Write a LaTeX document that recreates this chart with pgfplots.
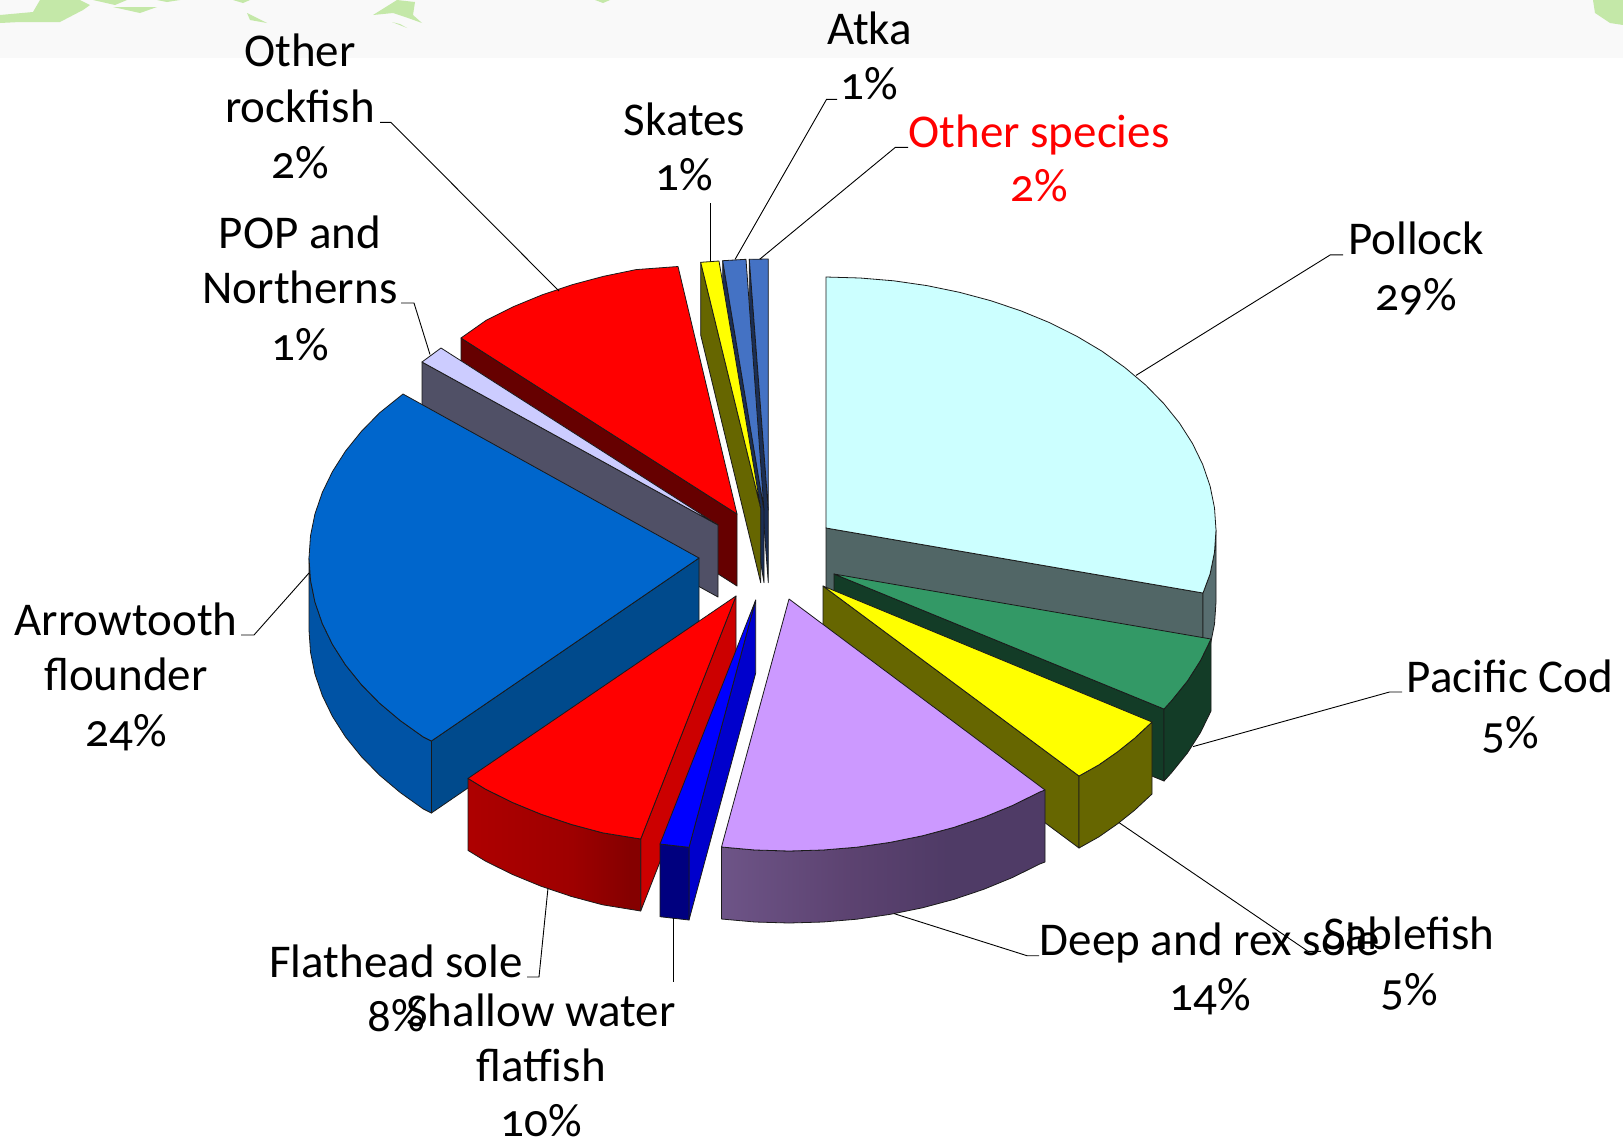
\documentclass[border=0pt]{standalone}
\usepackage{pgfplots}
\pgfplotsset{compat=1.18}
\usepackage{fontspec}
\setmainfont[Numbers=OldStyle]{Carlito}
\definecolor{ln}{HTML}{1A1A1A}
\definecolor{strip}{HTML}{F9F9F9}
\definecolor{leaf}{HTML}{C4E8A8}
\definecolor{cPolFace}{HTML}{516666}
\definecolor{cPolOut}{HTML}{586E70}
\definecolor{cPolTop}{HTML}{CCFFFF}
\definecolor{cCodDark}{HTML}{133C27}
\definecolor{cCodTop}{HTML}{339966}
\definecolor{cOlive}{HTML}{666600}
\definecolor{cYel}{HTML}{FFFF00}
\definecolor{cLilac}{HTML}{CC99FF}
\definecolor{cNavy}{HTML}{1A2E55}
\definecolor{cSteel}{HTML}{4472C4}
\definecolor{cMaroon}{HTML}{660000}
\definecolor{cRed}{HTML}{FF0000}
\definecolor{cPopSide}{HTML}{505066}
\definecolor{cPopTop}{HTML}{CCCCFF}
\definecolor{cArrIn}{HTML}{004A8C}
\definecolor{cArrOut}{HTML}{0053A5}
\definecolor{cArrTop}{HTML}{0066CC}
\definecolor{cFlatIn}{HTML}{CC0000}
\definecolor{cShalIn}{HTML}{0000CC}
\definecolor{cShalOut}{HTML}{00007F}
\definecolor{cShalTop}{HTML}{0000FF}
\pgfdeclarehorizontalshading{lilacside}{100bp}{rgb(0bp)=(.43,.33,.53); rgb(25bp)=(.43,.33,.53); rgb(45bp)=(.36,.26,.44); rgb(60bp)=(.31,.23,.40); rgb(100bp)=(.31,.23,.40)}
\pgfdeclarehorizontalshading{redside}{100bp}{rgb(0bp)=(.68,0,0); rgb(25bp)=(.68,0,0); rgb(55bp)=(.62,0,0); rgb(72bp)=(.52,0,0); rgb(100bp)=(.52,0,0)}
\pgfplotsset{
  face/.style={fill=#1,draw=ln,line width=.8pt,line join=round,forget plot,mark=none},
  shd/.style={shade,shading=#1,draw=ln,line width=.8pt,line join=round,forget plot,mark=none},
  plain/.style={fill=#1,draw=none,forget plot,mark=none},
  lead/.style={draw=black,line width=.9pt,forget plot,mark=none},
}
\newcommand{\lab}[3]{\node[anchor=base,inner sep=0pt,font=\fontsize{47}{54}\selectfont] at (axis cs:#1,#2) {#3};}
\newcommand{\labr}[3]{\node[anchor=base,inner sep=0pt,text=red,font=\fontsize{47}{54}\selectfont] at (axis cs:#1,#2) {#3};}
\begin{document}
\begin{tikzpicture}
\begin{axis}[scale only axis,width=1623pt,height=1146pt,xmin=0,xmax=1623,ymin=0,ymax=1146,y dir=reverse,hide axis]
% background
\addplot[plain=white] coordinates {(0,0)(1623,0)(1623,1146)(0,1146)} --cycle;
\addplot[plain=strip] coordinates {(0,0)(1623,0)(1623,58)(0,58)} --cycle;
\addplot[plain=leaf] coordinates {(0,15)(33,12)(40,0)(80,0)(90,5)(83,10)(60,22)(20,22)(0,23)} --cycle;
\addplot[plain=leaf] coordinates {(93,0)(127,0)(115,5)} --cycle;
\addplot[plain=leaf] coordinates {(113,7)(157,7)(140,13)} --cycle;
\addplot[plain=leaf] coordinates {(157,0)(180,0)(167,2)} --cycle;
\addplot[plain=leaf] coordinates {(233,0)(250,0)(243,3)} --cycle;
\addplot[plain=leaf] coordinates {(247,13)(267,23)(250,20)} --cycle;
\addplot[plain=leaf] coordinates {(373,15)(397,0)(415,2)(413,15)(422,23)(408,18)(393,13)} --cycle;
\addplot[plain=leaf] coordinates {(392,22)(407,28)(400,24)} --cycle;
\addplot[plain=leaf] coordinates {(595,0)(603,3)(610,0)} --cycle;
\addplot[plain=leaf] coordinates {(1593,0)(1623,0)(1623,25)(1610,23)(1595,13)} --cycle;
% Pollock
\addplot[face=cPolFace] coordinates {(826,528)(1203,593)(1203,665)(826,600)} --cycle;
\addplot[face=cPolOut] coordinates {(1216,530)(1214.5,552.1)(1210.1,573.9)(1203,593)(1203,665)(1210.1,645.9)(1214.5,624.1)(1216,602)} --cycle;
\addplot[face=cPolTop] coordinates {(826,528)(826,277)(860,278)(893.7,280.8)(926.9,285.6)(959.4,292.3)(990.8,300.7)(1021,310.9)(1049.7,322.7)(1076.7,336.2)(1101.8,351.1)(1124.7,367.4)(1145.5,384.9)(1163.7,403.5)(1179.5,423.1)(1192.5,443.5)(1202.7,464.5)(1210.1,486.1)(1214.5,507.9)(1216,530)(1214.5,552.1)(1210.1,573.9)(1203,593)} --cycle;
% Pacific Cod
\addplot[face=cCodDark] coordinates {(834,574)(1164,709)(1164,781)(834,646)} --cycle;
\addplot[face=cCodDark] coordinates {(1211,639)(1200.5,660.5)(1187.5,680.9)(1171.7,700.5)(1164,709)(1164,781)(1171.7,772.5)(1187.5,752.9)(1200.5,732.5)(1211,711)} --cycle;
\addplot[face=cCodTop] coordinates {(834,574)(1211,639)(1200.5,660.5)(1187.5,680.9)(1171.7,700.5)(1164,709)} --cycle;
% Sablefish
\addplot[face=cOlive] coordinates {(823,586)(1079,776)(1079,848)(823,658)} --cycle;
\addplot[face=cOlive] coordinates {(1152,722)(1134.5,738.3)(1117.3,752)(1098.8,764.9)(1079,776)(1079,848)(1098.8,836.9)(1117.3,824)(1134.5,810.3)(1152,794)} --cycle;
\addplot[face=cYel] coordinates {(823,586)(1152,722)(1134.5,738.3)(1117.3,752)(1098.8,764.9)(1079,776)} --cycle;
% Deep and rex sole
\addplot[shd=lilacside] coordinates {(1045,790)(1039.7,792)(1012.7,805.4)(984,817.2)(953.8,827.4)(922.4,835.8)(889.9,842.4)(856.7,847.2)(823,850)(789,851)(755,850)(721.5,847)(721.5,919)(755,922)(789,923)(823,922)(856.7,919.2)(889.9,914.4)(922.4,907.8)(953.8,899.4)(984,889.2)(1012.7,877.4)(1039.7,864)(1045,862)} --cycle;
\addplot[face=cLilac] coordinates {(789,599)(1045,790)(1039.7,792)(1012.7,805.4)(984,817.2)(953.8,827.4)(922.4,835.8)(889.9,842.4)(856.7,847.2)(823,850)(789,851)(755,850)(721.5,847)} --cycle;
% Other species
\addplot[face=cNavy] coordinates {(749.3,259.3)(749.3,332)(768.3,582.7)(768.3,510)} --cycle;
\addplot[face=cSteel] coordinates {(749.3,259.3)(768.3,259)(768.3,510)} --cycle;
% Atka
\addplot[face=cNavy] coordinates {(722.7,260.7)(722.7,333)(764,582.7)(764,510)} --cycle;
\addplot[face=cSteel] coordinates {(722.7,260.7)(746,259.3)(764,510)} --cycle;
% Skates
\addplot[face=cOlive] coordinates {(700.7,262.3)(700.7,335)(760.7,582.7)(760.7,508)} --cycle;
\addplot[face=cYel] coordinates {(700.7,262.3)(719,261)(760.7,508)} --cycle;
% Other rockfish
\addplot[face=cMaroon] coordinates {(461,338)(737,514)(737,586)(461,410)} --cycle;
\addplot[face=cRed] coordinates {(737,514)(461,338)(486.3,320.2)(513.3,306.7)(542,294.9)(572.2,284.7)(603.6,276.3)(636.1,269.6)(678,266.5)} --cycle;
% POP and Northerns
\addplot[face=cPopSide] coordinates {(422,362)(718,525)(718,597)(422,434)} --cycle;
\addplot[face=cPopTop] coordinates {(718,525)(422,362)(441,348)} --cycle;
% Arrowtooth flounder
\addplot[face=cArrIn] coordinates {(699,558)(431.4,741)(431.4,813)(699,630)} --cycle;
\addplot[face=cArrOut] coordinates {(431.4,741)(423.2,736.9)(400.3,720.6)(379.5,703.1)(361.3,684.5)(345.5,664.9)(332.5,644.5)(322.3,623.5)(314.9,601.9)(310.5,580.1)(309,558)(309,630)(310.5,652.1)(314.9,673.9)(322.3,695.5)(332.5,716.5)(345.5,736.9)(361.3,756.5)(379.5,775.1)(400.3,792.6)(423.2,808.9)(431.4,813)} --cycle;
\addplot[face=cArrTop] coordinates {(699,558)(431.4,741)(423.2,736.9)(400.3,720.6)(379.5,703.1)(361.3,684.5)(345.5,664.9)(332.5,644.5)(322.3,623.5)(314.9,601.9)(310.5,580.1)(309,558)(310.5,535.9)(314.9,514.1)(322.3,492.5)(332.5,471.5)(345.5,451.1)(361.3,431.5)(379.5,412.9)(403,394)} --cycle;
% Flathead sole
\addplot[face=cFlatIn] coordinates {(736,596)(640.7,839)(640.7,911)(736,668)} --cycle;
\addplot[shd=redside] coordinates {(468,778.4)(485.3,789)(512.3,802.4)(541,814.2)(571.2,824.4)(602.6,832.8)(640.7,839)(640.7,911)(602.6,904.8)(571.2,896.4)(541,886.2)(512.3,874.4)(485.3,861)(468,850.4)} --cycle;
\addplot[face=cRed] coordinates {(736,596)(640.7,839)(602.6,832.8)(571.2,824.4)(541,814.2)(512.3,802.4)(485.3,789)(468,778.4)} --cycle;
% Shallow water flatfish
\addplot[face=cShalIn] coordinates {(755.7,600)(689,847.3)(689,920)(755.7,673)} --cycle;
\addplot[face=cShalOut] coordinates {(660,844)(689,847.3)(689,920)(660,916.7)} --cycle;
\addplot[face=cShalTop] coordinates {(755.7,600)(689,847.3)(660,844)} --cycle;
% leader lines
\addplot[lead] coordinates {(380,122.4)(391,122.4)(559,291)};
\addplot[lead] coordinates {(401,303)(414,303)(430,354.5)};
\addplot[lead] coordinates {(710,203)(710,261)};
\addplot[lead] coordinates {(735,259.5)(826.5,99.4)(837,99.4)};
\addplot[lead] coordinates {(760,259)(895.4,147.3)(908,147.3)};
\addplot[lead] coordinates {(1136,375.4)(1330.4,254.8)(1343,254.8)};
\addplot[lead] coordinates {(1193,746.6)(1389.5,692)(1402,692)};
\addplot[lead] coordinates {(1119,822.6)(1308,951.3)(1321,951.3)};
\addplot[lead] coordinates {(894,913.6)(1027,955.7)(1039,955.7)};
\addplot[lead] coordinates {(673.7,918.4)(673.7,981.6)};
\addplot[lead] coordinates {(548,888)(539,977)(527,977)};
\addplot[lead] coordinates {(309,573)(254,635)(241,635)};
% labels
\lab{300}{66}{Other}\lab{300}{122.4}{rockfish}\lab{300}{178}{2\%}
\lab{300}{248.5}{POP and}\lab{300}{303}{Northerns}\lab{300}{360}{1\%}
\lab{684.6}{135}{Skates}\lab{684.6}{190}{1\%}
\lab{869.5}{44}{Atka}\lab{869.5}{99.4}{1\%}
\labr{1039}{147}{Other species}\labr{1039}{201.8}{2\%}
\lab{1416}{254.8}{Pollock}\lab{1416}{310.7}{29\%}
\lab{1510}{692}{Pacific Cod}\lab{1510}{748}{5\%}
\lab{1210}{955}{Deep and rex sole}\lab{1210}{1010.5}{14\%}
\lab{1409}{949.5}{Sablefish}\lab{1409}{1005}{5\%}
\lab{396}{977}{Flathead sole}\lab{396}{1031.7}{8\%}
\lab{541}{1026}{Shallow water}\lab{541}{1081}{flatfish}\lab{541}{1136}{10\%}
\lab{126}{635}{Arrowtooth}\lab{126}{690}{flounder}\lab{126}{746.6}{24\%}
\end{axis}
\end{tikzpicture}
\end{document}
